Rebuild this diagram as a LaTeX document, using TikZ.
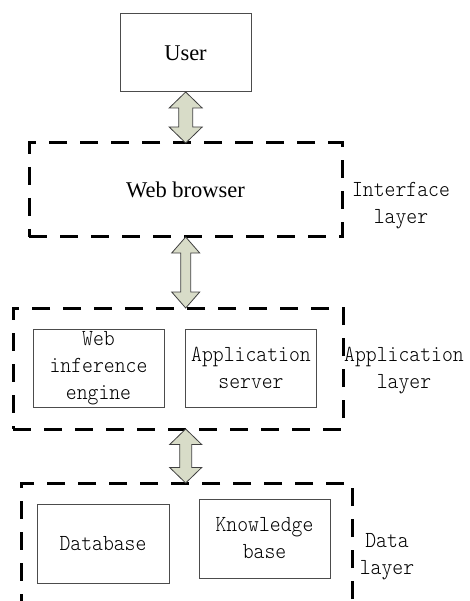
\documentclass[tikz,border=0pt]{standalone}
\usepackage{fontspec}
\setmainfont{Liberation Serif}
\newfontfamily\monof{lmmonolt10-regular.otf}[FakeStretch=0.9]
\usetikzlibrary{calc}
\definecolor{arrowfill}{RGB}{216,220,200}
\tikzset{
  solidbox/.style={draw=black!70, line width=1pt, minimum width=131pt, minimum height=78pt, inner sep=0pt, outer sep=0pt},
  layerbox/.style={draw=black, line width=3pt, dash pattern=on 18pt off 13pt, inner sep=0pt, outer sep=0pt},
  serif/.style={font=\fontsize{22.5}{27}\selectfont},
  mono/.style={font=\monof\fontsize{23}{27}\selectfont, align=center},
  arr/.style={draw=black!75, fill=arrowfill, line width=0.8pt, line join=miter},
}
\newcommand\biarrow[5]{%
  \path[arr] let \p1=(#1.south -| axis), \p2=(#2.north -| axis) in
    (\x1,\y1) -- (\x1+#3pt,\y1-#5pt) -- (\x1+#4pt,\y1-#5pt) -- (\x1+#4pt,\y2+#5pt)
    -- (\x1+#3pt,\y2+#5pt) -- (\x1,\y2) -- (\x1-#3pt,\y2+#5pt) -- (\x1-#4pt,\y2+#5pt)
    -- (\x1-#4pt,\y1-#5pt) -- (\x1-#3pt,\y1-#5pt) -- cycle;}
\begin{document}
\begin{tikzpicture}[x=1pt,y=-1pt]
\useasboundingbox (0,0) rectangle (470,601);
\clip (0,0) rectangle (470,601);
\coordinate (axis) at (185.7,0);
% top
\node[solidbox, serif] (user) at (185.5,53) {User};
\node[layerbox, serif, minimum width=313pt, minimum height=94pt] (web) at (185.5,190) {Web browser};
\node[mono] (ifacelabel) at (401,206) {Interface\\layer};
% application layer
\node[layerbox, minimum width=330pt, minimum height=121pt] (app) at (178,368.5) {};
\node[solidbox, mono] (engine) at (98.5,368) {Web\\inference\\engine};
\node[solidbox, mono] (server) at (251,368) {Application\\server};
\node[mono] (applabel) at (404,371) {Application\\layer};
% data layer
\node[layerbox, minimum width=331pt, minimum height=157pt] (data) at (186.5,561.5) {};
\node[solidbox, mono, minimum width=132pt, minimum height=79pt] (db) at (103,543.5) {Database};
\node[solidbox, mono, minimum height=79pt] (kb) at (264.5,538.5) {Knowledge\\base};
\node[mono] (datalabel) at (387,557) {Data\\layer};
% arrows
\biarrow{user}{web}{16.5}{7}{16}
\biarrow{web}{app}{14}{5}{16}
\biarrow{app}{data}{16}{6}{15.5}
\end{tikzpicture}
\end{document}
